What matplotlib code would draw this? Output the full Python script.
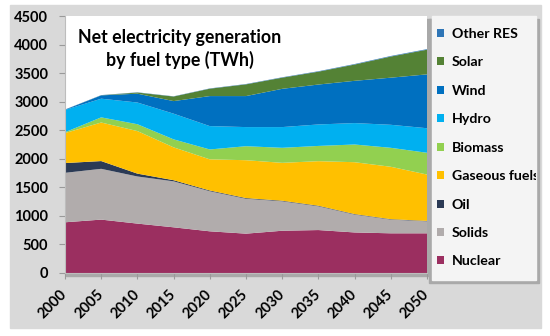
import matplotlib
matplotlib.use("Agg")
import matplotlib.pyplot as plt
from matplotlib.patches import Rectangle, Patch
from matplotlib.transforms import Bbox, TransformedBbox

plt.rcParams['font.family'] = ['Lato', 'DejaVu Sans']
plt.rcParams['font.weight'] = 'bold'

years = [2000, 2005, 2010, 2015, 2020, 2025, 2030, 2035, 2040, 2045, 2050]

# TWh per fuel, stacked bottom to top
nuclear = [888, 935, 865, 800, 730, 689, 740, 752, 710, 695, 695]
solids = [866, 889, 825, 805, 702, 611, 516, 416, 313, 240, 210]
oil = [171, 136, 50, 20, 13, 12, 10, 10, 9, 8, 7]
gaseous = [525, 675, 745, 575, 545, 663, 663, 780, 908, 917, 812]
biomass = [15, 90, 120, 140, 173, 245, 263, 267, 310, 332, 381]
hydro = [390, 327, 380, 450, 409, 335, 363, 376, 375, 403, 430]
wind = [5, 58, 155, 220, 526, 543, 670, 699, 740, 825, 943]
solar = [0, 2, 20, 80, 129, 205, 195, 225, 285, 370, 432]
other_res = [3, 3, 4, 4, 5, 6, 7, 8, 9, 10, 10]

labels = ['Nuclear', 'Solids', 'Oil', 'Gaseous fuels', 'Biomass',
          'Hydro', 'Wind', 'Solar', 'Other RES']
colors = ['#9b2f60', '#b1acac', '#2b3a55', '#ffc000', '#92d050',
          '#00b0f0', '#0070c0', '#548235', '#2e75b6']
yticks = [0, 500, 1000, 1500, 2000, 2500, 3000, 3500, 4000, 4500]

W, H = 550, 336
fig = plt.figure(figsize=(W / 100, H / 100), dpi=100)
fig.patch.set_facecolor('white')

def fbox(x0, y0, x1, y1, **kw):
    # rectangle given in pixel coords (top-left origin)
    r = Rectangle((x0 / W, 1 - y1 / H), (x1 - x0) / W, (y1 - y0) / H,
                  transform=fig.transFigure, **kw)
    fig.patches.append(r)
    return r

# grey panel + shadows
fbox(10, 5, 541, 328, color='#d9d9d9', zorder=-10)
fbox(66, 19, 431, 276, color='#a9a9a9', zorder=-5)
fbox(429, 19, 539, 283, color='#a9a9a9', zorder=-5)
fbox(432, 16, 536, 280, color='#f4f4f4', zorder=-4)

ax = fig.add_axes([65 / W, 1 - 273 / H, (427 - 65) / W, (273 - 16) / H])
ax.set_facecolor('white')
ax.stackplot(years, nuclear, solids, oil, gaseous, biomass, hydro, wind,
             solar, other_res, colors=colors, labels=labels, linewidth=0)
ax.set_xlim(2000, 2050)
ax.set_ylim(0, 4500)
ax.set_xticks(years)
ax.set_yticks(yticks)
ax.tick_params(axis='y', length=4, color='#9a9a9a', pad=8, labelsize=10.5)
ax.tick_params(axis='x', length=4, color='#9a9a9a', pad=10, labelsize=10.5)
for t in ax.get_xticklabels():
    t.set_rotation(45)
    t.set_ha('right')
    t.set_va('center')
    t.set_rotation_mode('anchor')
for t in ax.get_xticklabels() + ax.get_yticklabels():
    t.set_fontweight('bold')
for s in ['top', 'right']:
    ax.spines[s].set_visible(False)
for s in ['left', 'bottom']:
    ax.spines[s].set_color('#bdbdbd')
    ax.spines[s].set_linewidth(0.8)

fig.text(180 / W, 1 - 49 / H, 'Net electricity generation\nby fuel type (TWh)',
         ha='center', va='center', fontsize=12.8, fontweight='bold',
         linespacing=1.3)

handles = [Patch(facecolor=c, edgecolor='none') for c in colors][::-1]
leg = fig.legend(handles, labels[::-1], loc='upper left',
                 bbox_to_anchor=(437 / W, 1 - 28 / H), frameon=False,
                 handlelength=0.5, handleheight=0.5,
                 handletextpad=0.55, labelspacing=1.16, borderpad=0,
                 borderaxespad=0, prop={'weight': 'bold', 'size': 10.2})
clip = TransformedBbox(Bbox([[0, 0], [536 / W, 1]]), fig.transFigure)
for t in leg.get_texts():
    t.set_clip_box(clip)
    t.set_clip_on(True)

fig.savefig('out.png', dpi=100)
